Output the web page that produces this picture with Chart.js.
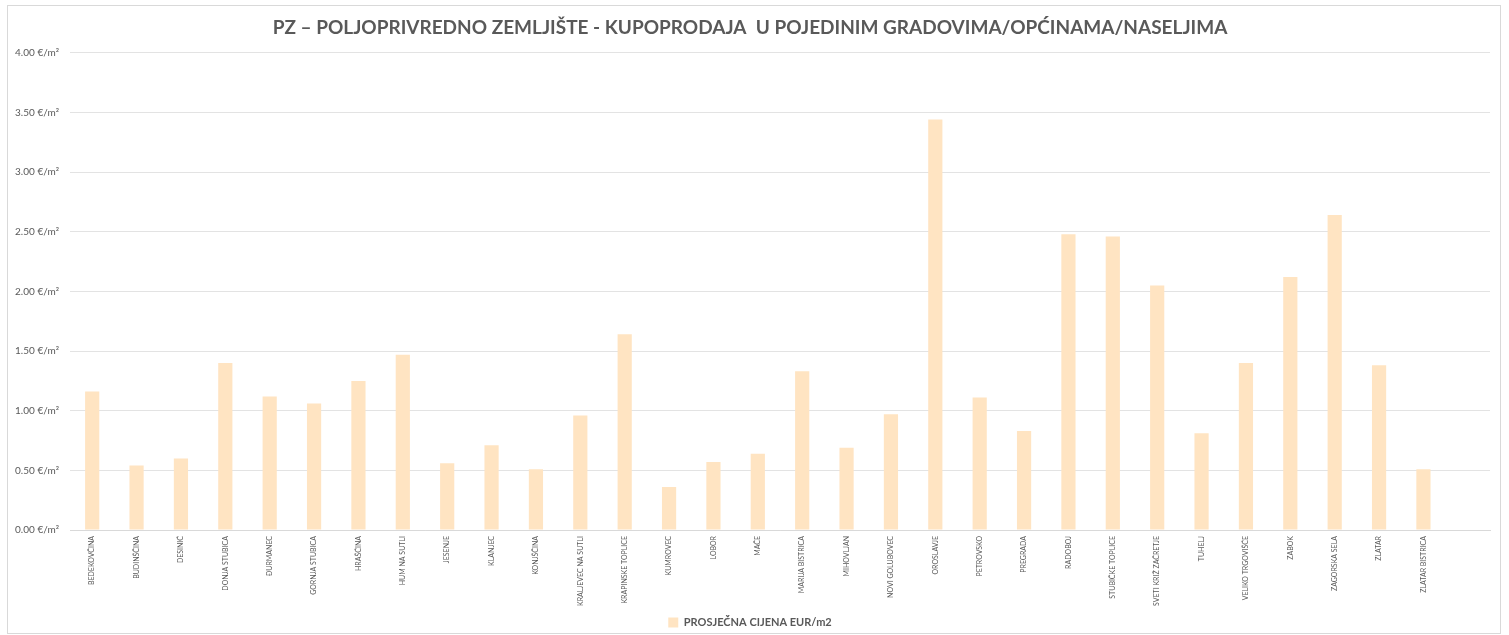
<!DOCTYPE html>
<html>
<head>
<meta charset="utf-8">
<script src="https://cdn.jsdelivr.net/npm/chart.js@4.4.1/dist/chart.umd.min.js"></script>
<style>
  html, body { margin: 0; padding: 0; background: #fff; }
  #wrap { position: relative; width: 1509px; height: 635px; }
  #frame { position: absolute; left: 7px; top: 5px; width: 1492px; height: 627px; border: 1px solid #d9d9d9; }
  canvas { position: absolute; left: 0; top: 0; }
</style>
</head>
<body>
<div id="wrap">
  <div id="frame"></div>
  <canvas id="priceChart" width="1509" height="635"></canvas>
</div>
<script>
// Prosječna cijena poljoprivrednog zemljišta po gradu/općini (EUR/m2)
var places = ['BEDEKOVČINA', 'BUDINŠČINA', 'DESINIĆ', 'DONJA STUBICA', 'ĐURMANEC', 'GORNJA STUBICA',
    'HRAŠĆINA', 'HUM NA SUTLI', 'JESENJE', 'KLANJEC', 'KONJŠČINA', 'KRALJEVEC NA SUTLI',
    'KRAPINSKE TOPLICE', 'KUMROVEC', 'LOBOR', 'MAČE', 'MARIJA BISTRICA', 'MIHOVLJAN',
    'NOVI GOLUBOVEC', 'OROSLAVJE', 'PETROVSKO', 'PREGRADA', 'RADOBOJ', 'STUBIČKE TOPLICE',
    'SVETI KRIŽ ZAČRETJE', 'TUHELJ', 'VELIKO TRGOVIŠĆE', 'ZABOK', 'ZAGORSKA SELA', 'ZLATAR',
    'ZLATAR BISTRICA', ''];
var avgPrice = [1.16, 0.54, 0.60, 1.40, 1.12, 1.06,
    1.25, 1.47, 0.56, 0.71, 0.51, 0.96,
    1.64, 0.36, 0.57, 0.64, 1.33, 0.69,
    0.97, 3.44, 1.11, 0.83, 2.48, 2.46,
    2.05, 0.81, 1.40, 2.12, 2.64, 1.38,
    0.51, null];
var yTicks = [0, 0.5, 1, 1.5, 2, 2.5, 3, 3.5, 4];

var ctx = document.getElementById('priceChart').getContext('2d');
var priceChart = new Chart(ctx, {
    type: 'bar',
    data: {
        labels: places,
        datasets: [{
            label: 'PROSJEČNA CIJENA EUR/m2',
            data: avgPrice,
            backgroundColor: '#ffe4c2',
            categoryPercentage: 1,
            barPercentage: 0.32
        }]
    },
    options: {
        responsive: false,
        animation: false,
        layout: {
            padding: { left: 10, right: 19, top: 0, bottom: -3 }
        },
        plugins: {
            title: {
                display: true,
                text: 'PZ – POLJOPRIVREDNO ZEMLJIŠTE - KUPOPRODAJA  U POJEDINIM GRADOVIMA/OPĆINAMA/NASELJIMA',
                color: '#595959',
                font: { family: 'Lato', size: 19, weight: 'bold' },
                padding: { top: 16, bottom: 14 }
            },
            legend: {
                position: 'bottom',
                labels: {
                    boxWidth: 10,
                    boxHeight: 10,
                    color: '#595959',
                    font: { family: 'Lato', size: 11, weight: 'bold' },
                    padding: 2
                }
            },
            tooltip: { enabled: false }
        },
        scales: {
            x: {
                grid: { display: false, drawTicks: false },
                border: { color: '#d9d9d9' },
                ticks: {
                    autoSkip: false,
                    minRotation: 90,
                    maxRotation: 90,
                    padding: 6,
                    color: '#595959',
                    font: { family: 'Lato', size: 7 }
                },
                afterFit: function (scale) { scale.height = 85; }
            },
            y: {
                min: 0,
                max: 4,
                afterBuildTicks: function (scale) {
                    scale.ticks = yTicks.map(function (v) { return { value: v }; });
                },
                grid: { color: '#e3e3e3', drawTicks: false },
                border: { display: false },
                ticks: {
                    padding: 11,
                    color: '#595959',
                    font: { family: 'Lato', size: 10 },
                    callback: function (v) { return Number(v).toFixed(2) + ' €/m²'; }
                },
                afterFit: function (scale) { scale.width = 60; }
            }
        }
    }
});
</script>
</body>
</html>
